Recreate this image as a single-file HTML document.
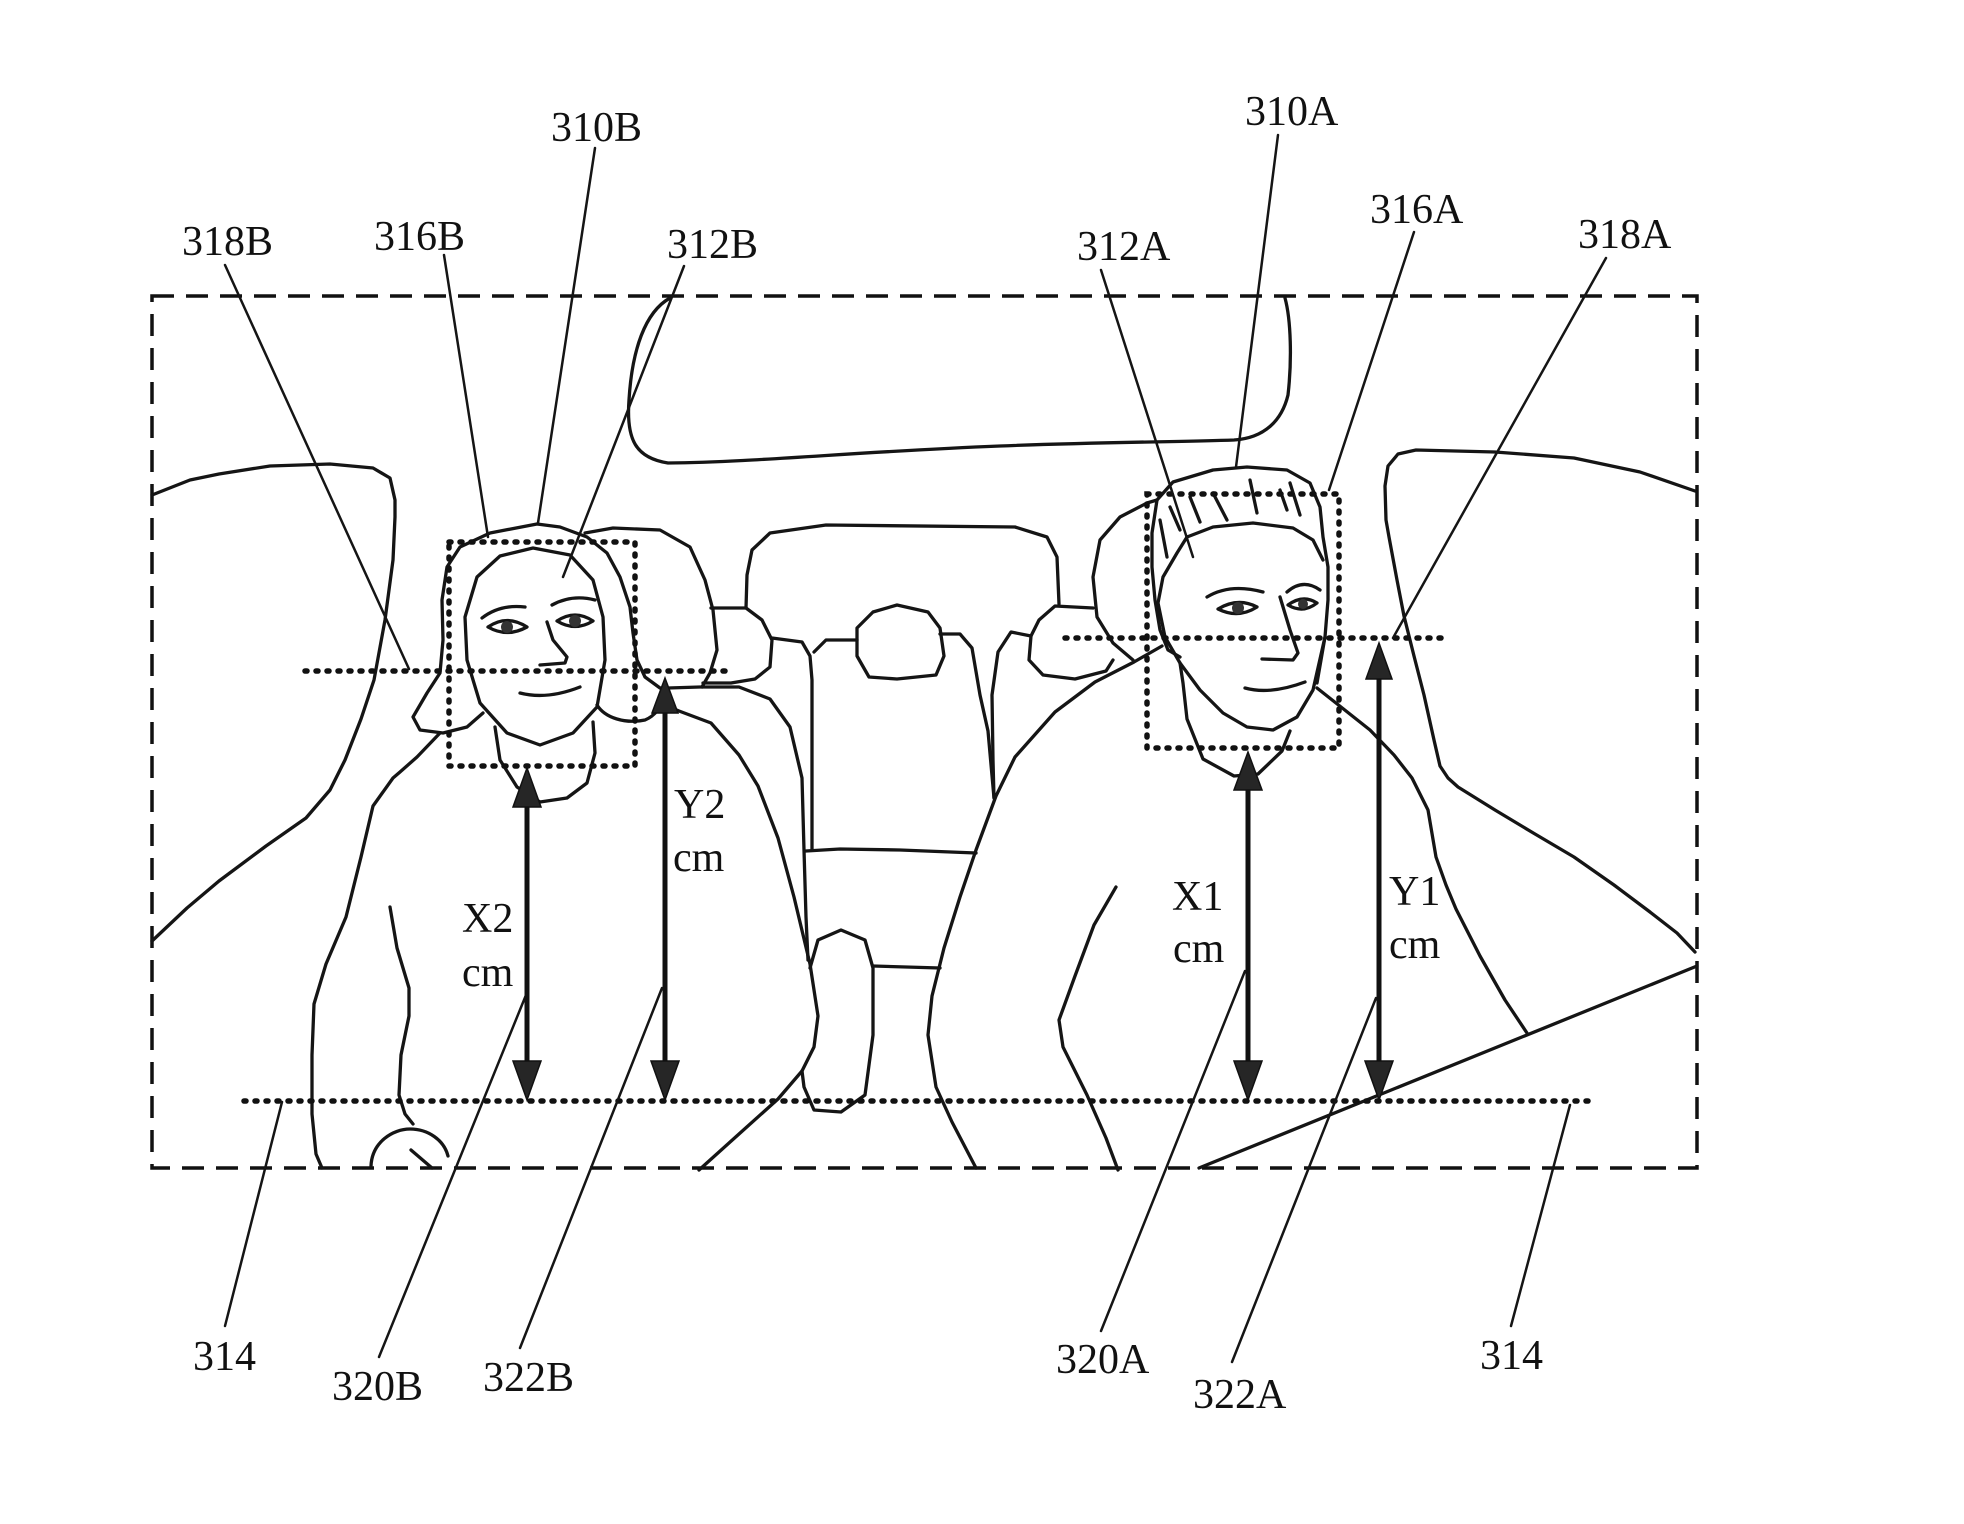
<!DOCTYPE html>
<html><head><meta charset="utf-8"><style>
html,body{margin:0;padding:0;background:#fff;}
svg{display:block;}
text{font-family:"Liberation Serif",serif;font-size:42px;fill:#111;}
</style></head><body>
<svg width="1964" height="1524" viewBox="0 0 1964 1524" xmlns="http://www.w3.org/2000/svg">
<rect x="0" y="0" width="1964" height="1524" fill="#fff"/>

<!-- outer dashed frame -->
<rect x="152" y="296" width="1545" height="872" fill="none" stroke="#111" stroke-width="3.5" stroke-dasharray="22 12"/>

<g fill="none" stroke="#151515" stroke-width="3.3" stroke-linejoin="round" stroke-linecap="round">
<!-- rear window -->
<path d="M670 298 C645 312 632 350 629 400 C626 440 636 458 668 463 C760 462 850 452 1000 446 C1100 442 1180 442 1234 440 C1265 438 1282 420 1288 395 C1292 360 1291 320 1285 298"/>
<!-- left window -->
<polyline points="152,495 190,480 219,474 270,466 330,464 373,468 390,478 395,500 395,517 393,560 385,620 374,680 361,719 345,760 330,790 306,818 266,846 219,881 187,908 152,941"/>
<!-- right window -->
<polyline points="1695,491 1640,472 1574,458 1495,452 1416,450 1398,454 1388,466 1385,486 1386,520 1389,537 1397,580 1404,616 1414,656 1424,695 1434,740 1440,766 1448,778 1458,787 1495,810 1535,834 1574,857 1614,885 1650,912 1677,933 1695,952"/>
<!-- right seatbelt -->
<line x1="1697" y1="966" x2="1199" y2="1168"/>

<!-- rear seat back -->
<polyline points="746,608 747,575 752,550 770,533 826,525 1015,527 1047,537 1057,557 1059,604"/>
<!-- rear left headrest -->
<polyline points="711,608 746,608 762,620 772,640 770,667 755,679 731,683 703,683"/>
<polyline points="772,638 802,642 810,656 812,680 812,850"/>
<polyline points="857,640 826,640 814,652"/>
<!-- center headrest -->
<polygon points="857,628 873,612 897,605 928,612 940,628 944,656 936,675 897,679 869,677 857,656"/>
<polyline points="940,634 960,634 972,648 980,695 988,731 994,798"/>
<!-- right rear headrest -->
<polyline points="1093,608 1055,606 1039,620 1031,636 1029,660 1043,675 1075,679 1106,671 1113,660"/>
<polyline points="1031,636 1011,632 998,652 992,695 993,760 994,798"/>
<!-- center console lines -->
<polyline points="806,851 840,849 900,850 976,853"/>
<polyline points="810,968 818,940 841,930 865,940 873,968 873,1035 865,1095 841,1112 814,1110 804,1087 802,1071"/>
<line x1="873" y1="966" x2="940" y2="968"/>

<!-- front-left headrest (behind B) -->
<polyline points="585,533 613,528 660,530 690,547 705,580 713,610 717,650 710,673 702,687"/>
<!-- front-left seat edge -->
<polyline points="668,688 700,687 739,687 770,699 790,727 802,778 804,850 806,917 808,960"/>
<!-- B right shoulder / arm -->
<polyline points="665,705 679,711 711,723 739,755 758,786 778,838 794,897 810,964 818,1016 814,1047 802,1071 778,1099 739,1134 699,1170"/>

<!-- B hair -->
<polyline points="483,713 467,727 443,733 420,730 413,717 427,693 440,673 443,640 442,600 447,567 460,547 490,533 537,524 560,527 587,537 607,553 620,577 630,607 633,633 637,660 645,677 660,688 668,688"/>
<path d="M597 705 C605 718 625 724 645 720 C655 716 662 706 665 697"/>
<!-- B face -->
<polygon points="533,548 570,555 593,580 603,617 605,660 597,707 573,733 540,745 507,733 480,703 467,660 465,617 477,577 500,556"/>
<!-- B brows -->
<path d="M482 618 Q500 604 525 607"/>
<path d="M552 605 Q572 594 595 600"/>
<!-- B eyes -->
<path d="M488 627 Q507 614 527 627 Q507 638 488 627Z"/>
<path d="M557 621 Q575 609 593 621 Q575 632 557 621Z"/>
<!-- B nose, mouth -->
<polyline points="547,622 553,640 567,657 565,663 540,665"/>
<path d="M520 693 Q547 700 580 687"/>
<!-- B neck -->
<polyline points="495,727 500,760 517,787 540,802 567,798 587,783 595,753 593,722"/>
<!-- B left shoulder -->
<polyline points="440,733 417,757 400,772 393,778 373,806 361,857 346,917 326,964 314,1004 312,1055 312,1114 316,1154 322,1168"/>
<!-- B arm inner -->
<polyline points="390,907 397,948 409,988 409,1016 401,1055 399,1095 405,1114 413,1124"/>
<path d="M371 1166 C372 1142 393 1129 410 1129 C428 1129 444 1140 448 1156"/>
<line x1="411" y1="1150" x2="432" y2="1168"/>

<!-- A headrest -->
<polyline points="1157,500 1147,503 1120,517 1100,540 1093,577 1097,617 1113,643 1133,660"/>
<!-- A hair cap -->
<polyline points="1157,500 1173,482 1213,470 1247,467 1287,470 1310,483 1320,507 1323,537 1328,567 1328,600 1325,637 1317,683"/>
<polyline points="1157,500 1152,533 1152,567 1155,600 1160,630 1168,650 1180,657"/>
<polyline points="1187,537 1213,527 1253,523 1293,528 1313,540 1323,560"/>
<!-- hair strands -->
<line x1="1160" y1="520" x2="1167" y2="557"/>
<line x1="1170" y1="507" x2="1180" y2="530"/>
<line x1="1190" y1="497" x2="1200" y2="522"/>
<line x1="1213" y1="493" x2="1227" y2="520"/>
<line x1="1250" y1="480" x2="1257" y2="513"/>
<line x1="1280" y1="490" x2="1287" y2="510"/>
<line x1="1290" y1="483" x2="1300" y2="515"/>
<!-- A face -->
<polyline points="1187,537 1177,553 1163,577 1158,603 1165,637 1180,663 1200,690 1223,713 1247,727 1273,730 1297,717 1313,690 1325,637"/>
<!-- A brows -->
<path d="M1207 597 Q1230 583 1263 592"/>
<path d="M1287 592 Q1303 578 1320 590"/>
<!-- A eyes -->
<path d="M1218 609 Q1238 597 1257 607 Q1238 619 1218 609Z"/>
<path d="M1288 605 Q1303 594 1317 603 Q1303 614 1288 605Z"/>
<!-- A nose, mouth -->
<polyline points="1280,597 1290,630 1298,653 1293,660 1262,659"/>
<path d="M1245 688 Q1270 695 1305 682"/>
<!-- A neck -->
<polyline points="1180,663 1183,683 1187,719 1203,759 1234,776 1258,774 1282,751 1290,731"/>
<!-- A right body -->
<polyline points="1317,688 1341,707 1370,730 1394,755 1412,778 1428,810 1436,857 1446,885 1456,909 1480,956 1505,1000 1527,1033"/>
<!-- A left body -->
<polyline points="1162,646 1134,662 1095,682 1055,712 1015,757 996,796 976,850 960,897 944,948 932,996 928,1035 936,1087 952,1122 976,1168"/>
<!-- A arm stroke -->
<polyline points="1116,887 1094,925 1075,976 1059,1020 1063,1047 1087,1095 1106,1138 1118,1170"/>
</g>

<!-- pupils -->
<g fill="#333">
<circle cx="507" cy="627" r="6"/>
<circle cx="575" cy="621" r="6"/>
<circle cx="1238" cy="608" r="6"/>
<circle cx="1303" cy="604" r="5"/>
</g>

<!-- dotted lines -->
<g fill="none" stroke="#111" stroke-width="5.5" stroke-dasharray="2 9" stroke-linecap="round">
<rect x="449" y="542" width="186" height="224"/>
<rect x="1147" y="494" width="192" height="254"/>
<line x1="305" y1="671" x2="733" y2="671"/>
<line x1="1065" y1="638" x2="1444" y2="638"/>
<line x1="244" y1="1101" x2="1596" y2="1101"/>
</g>

<!-- leader lines -->
<g stroke="#151515" stroke-width="2.5" fill="none" stroke-linecap="round">
<line x1="225" y1="265" x2="409" y2="669"/>
<line x1="444" y1="255" x2="488" y2="537"/>
<line x1="595" y1="148" x2="538" y2="523"/>
<line x1="684" y1="266" x2="563" y2="577"/>
<line x1="1278" y1="135" x2="1236" y2="467"/>
<line x1="1101" y1="270" x2="1193" y2="557"/>
<line x1="1414" y1="232" x2="1329" y2="490"/>
<line x1="1606" y1="258" x2="1393" y2="638"/>
<line x1="225" y1="1326" x2="282" y2="1102"/>
<line x1="379" y1="1357" x2="526" y2="995"/>
<line x1="520" y1="1348" x2="662" y2="988"/>
<line x1="1101" y1="1331" x2="1245" y2="971"/>
<line x1="1232" y1="1362" x2="1376" y2="998"/>
<line x1="1511" y1="1326" x2="1570" y2="1105"/>
</g>

<!-- arrows -->
<g stroke="#111" stroke-width="5">
<line x1="527" y1="800" x2="527" y2="1066"/>
<line x1="665" y1="708" x2="665" y2="1066"/>
<line x1="1248" y1="785" x2="1248" y2="1066"/>
<line x1="1379" y1="674" x2="1379" y2="1066"/>
</g>
<g fill="#262626" stroke="#111" stroke-width="1.5">
<polygon points="527,768 513,807 541,807"/>
<polygon points="527,1100 513,1061 541,1061"/>
<polygon points="665,678 652,713 678,713"/>
<polygon points="665,1100 651,1061 679,1061"/>
<polygon points="1248,752 1234,790 1262,790"/>
<polygon points="1248,1100 1234,1061 1262,1061"/>
<polygon points="1379,643 1366,679 1392,679"/>
<polygon points="1379,1100 1365,1061 1393,1061"/>
</g>

<!-- labels -->
<text x="551" y="141">310B</text>
<text x="182" y="255">318B</text>
<text x="374" y="250">316B</text>
<text x="667" y="258">312B</text>
<text x="1245" y="125">310A</text>
<text x="1077" y="260">312A</text>
<text x="1370" y="223">316A</text>
<text x="1578" y="248">318A</text>
<text x="193" y="1370">314</text>
<text x="332" y="1400">320B</text>
<text x="483" y="1391">322B</text>
<text x="1056" y="1373">320A</text>
<text x="1193" y="1408">322A</text>
<text x="1480" y="1369">314</text>
<text x="462" y="932">X2</text>
<text x="462" y="986">cm</text>
<text x="674" y="818">Y2</text>
<text x="673" y="871">cm</text>
<text x="1172" y="910">X1</text>
<text x="1173" y="962">cm</text>
<text x="1389" y="905">Y1</text>
<text x="1389" y="958">cm</text>
</svg>
</body></html>
